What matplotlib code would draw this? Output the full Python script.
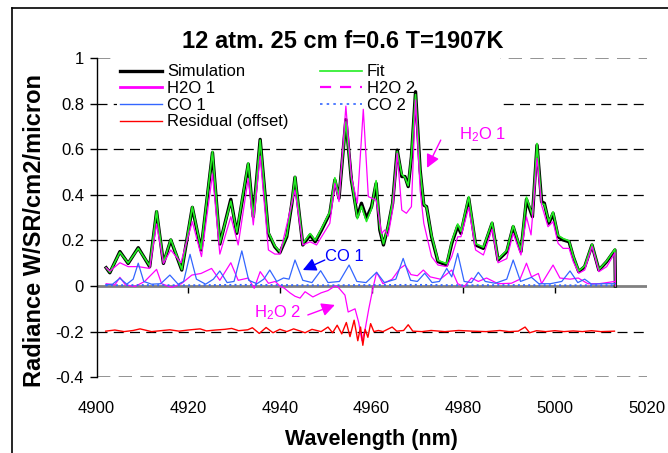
import matplotlib
matplotlib.use("Agg")
import matplotlib.pyplot as plt
from matplotlib.lines import Line2D
from matplotlib.patches import Rectangle

plt.rcParams['font.family'] = ['Liberation Sans', 'DejaVu Sans']
plt.rcParams['mathtext.default'] = 'regular'

# ---- data ----
sim_wl = [4902.1, 4902.9, 4905.1, 4906.9, 4909.1, 4911.6, 4913.1, 4914.6, 4916.2, 4918.6,
          4920.9, 4922.8, 4925.3, 4926.9, 4929.3, 4930.6, 4933.1, 4934.2, 4935.7, 4937.5,
          4938.9, 4940.0, 4941.5, 4942.6, 4943.3, 4945.0, 4946.6, 4947.7, 4949.1, 4950.9,
          4952.0, 4952.9, 4954.4, 4955.6, 4956.9, 4957.8, 4958.9, 4960.0, 4961.0, 4961.8,
          4962.6, 4963.6, 4964.6, 4965.6, 4966.6, 4967.3, 4968.0, 4968.7, 4969.6, 4970.6,
          4971.4, 4972.0, 4973.1, 4974.5, 4976.4, 4977.5, 4978.8, 4979.5, 4981.2, 4982.7,
          4984.4, 4986.3, 4987.6, 4989.5, 4990.9, 4992.6, 4993.8, 4995.1, 4996.1, 4997.1,
          4997.7, 4998.7, 4999.6, 5000.7, 5001.8, 5003.1, 5004.0, 5005.2, 5006.5, 5008.1,
          5009.6, 5011.3, 5013.1, 5013.2]
sim_val = [0.080, 0.058, 0.151, 0.099, 0.168, 0.085, 0.326, 0.099, 0.202, 0.070,
           0.345, 0.158, 0.585, 0.184, 0.380, 0.231, 0.535, 0.304, 0.643, 0.231,
           0.172, 0.146, 0.216, 0.360, 0.477, 0.180, 0.224, 0.194, 0.246, 0.319,
           0.465, 0.385, 0.730, 0.465, 0.304, 0.363, 0.297, 0.348, 0.450, 0.246,
           0.180, 0.260, 0.363, 0.596, 0.480, 0.480, 0.436, 0.567, 0.852, 0.509,
           0.355, 0.348, 0.216, 0.107, 0.092, 0.187, 0.263, 0.231, 0.385, 0.180,
           0.165, 0.275, 0.114, 0.151, 0.260, 0.151, 0.380, 0.304, 0.618, 0.370,
           0.363, 0.275, 0.319, 0.216, 0.202, 0.194, 0.129, 0.063, 0.085, 0.180,
           0.070, 0.107, 0.158, 0.0]
fit_val = [0.080, 0.060, 0.148, 0.101, 0.165, 0.088, 0.330, 0.101, 0.205, 0.072,
           0.348, 0.162, 0.590, 0.188, 0.372, 0.236, 0.540, 0.300, 0.640, 0.236,
           0.176, 0.150, 0.222, 0.365, 0.480, 0.186, 0.230, 0.200, 0.252, 0.325,
           0.475, 0.392, 0.720, 0.470, 0.295, 0.350, 0.283, 0.340, 0.462, 0.255,
           0.185, 0.262, 0.368, 0.590, 0.490, 0.475, 0.440, 0.575, 0.840, 0.505,
           0.360, 0.345, 0.222, 0.112, 0.098, 0.195, 0.272, 0.240, 0.392, 0.186,
           0.170, 0.280, 0.118, 0.156, 0.265, 0.156, 0.390, 0.310, 0.625, 0.360,
           0.358, 0.282, 0.325, 0.222, 0.208, 0.198, 0.132, 0.066, 0.088, 0.183,
           0.072, 0.110, 0.162, 0.0]

h1_wl = [4902.1, 4902.9, 4905.1, 4906.9, 4909.1, 4911.6, 4913.1, 4914.6, 4916.2, 4918.4,
         4920.9, 4922.9, 4925.3, 4926.9, 4929.3, 4930.9, 4933.1, 4934.2, 4935.7, 4937.5,
         4938.9, 4940.0, 4943.3, 4945.0, 4946.6, 4948.0, 4950.9, 4952.0, 4952.9, 4954.4,
         4955.6, 4956.9, 4958.2, 4959.3, 4961.0, 4962.2, 4962.9, 4963.6, 4964.6, 4965.6,
         4966.6, 4967.6, 4968.7, 4969.6, 4970.6, 4971.4, 4973.1, 4974.5, 4976.4, 4977.5,
         4978.8, 4979.5, 4981.2, 4982.7, 4984.4, 4986.3, 4987.6, 4989.5, 4990.9, 4992.6,
         4993.8, 4994.8, 4996.1, 4997.1, 4998.5, 4999.6, 5000.7, 5001.8, 5003.1, 5004.0,
         5005.2, 5006.5, 5008.1, 5009.6, 5011.3, 5013.1, 5013.2]
h1_val = [0.080, 0.065, 0.102, 0.085, 0.085, 0.077, 0.272, 0.099, 0.158, 0.102,
          0.282, 0.129, 0.491, 0.140, 0.304, 0.180, 0.472, 0.268, 0.570, 0.158,
          0.140, 0.140, 0.421, 0.180, 0.194, 0.180, 0.275, 0.450, 0.370, 0.789,
          0.480, 0.363, 0.775, 0.392, 0.377, 0.231, 0.246, 0.219, 0.333, 0.582,
          0.333, 0.319, 0.348, 0.816, 0.421, 0.275, 0.129, 0.092, 0.085, 0.129,
          0.216, 0.216, 0.345, 0.158, 0.136, 0.249, 0.102, 0.120, 0.231, 0.136,
          0.304, 0.224, 0.560, 0.355, 0.260, 0.282, 0.187, 0.165, 0.165, 0.107,
          0.056, 0.070, 0.173, 0.063, 0.085, 0.146, 0.0]

h2_wl = [4902.1, 4904.0, 4905.1, 4906.3, 4908.4, 4910.5, 4913.1, 4914.2, 4916.4, 4918.5,
         4920.8, 4922.8, 4925.1, 4926.9, 4929.3, 4930.9, 4933.1, 4934.4, 4935.7, 4937.5,
         4939.0, 4940.0, 4941.0, 4942.2, 4943.3, 4944.4, 4945.5, 4947.2, 4949.0, 4950.5,
         4952.0, 4952.7, 4954.2, 4954.9, 4956.4, 4957.2, 4957.9, 4958.6, 4959.4, 4960.3,
         4961.1, 4962.5, 4964.5, 4966.2, 4967.3, 4968.6, 4970.0, 4971.3, 4972.8, 4975.0,
         4977.5, 4978.8, 4980.2, 4981.8, 4983.3, 4985.1, 4987.6, 4990.5, 4992.4, 4993.8,
         4994.9, 4996.4, 4997.1, 4999.6, 5001.1, 5003.3, 5005.1, 5007.2, 5009.6, 5013.1]
h2_val = [0.010, 0.005, 0.038, 0.005, -0.002, 0.020, 0.073, 0.010, -0.006, 0.010,
          0.048, 0.055, 0.077, 0.025, 0.102, 0.025, 0.035, -0.010, 0.063, 0.012,
          0.020, 0.000, -0.010, -0.030, -0.045, -0.053, -0.025, -0.048, -0.030, -0.020,
          0.000, -0.005, -0.040, -0.114, -0.100, -0.160, -0.240, -0.190, -0.100, -0.010,
          0.060, 0.010, 0.030, 0.077, 0.092, 0.050, 0.045, 0.070, 0.040, 0.030,
          0.070, 0.010, -0.003, 0.035, 0.020, 0.035, 0.010, 0.012, 0.030, 0.100,
          0.040, 0.055, 0.010, 0.092, 0.035, 0.030, 0.035, 0.010, 0.010, 0.020]

co1_wl = [4902.0, 4903.5, 4905.1, 4906.6, 4908.0, 4909.1, 4910.3, 4912.0, 4914.0, 4916.0,
          4917.8, 4919.0, 4920.4, 4921.8, 4923.8, 4925.5, 4926.9, 4928.5, 4930.0, 4931.7,
          4933.2, 4935.0, 4936.5, 4937.8, 4939.3, 4940.8, 4942.0, 4943.3, 4945.0, 4947.0,
          4948.9, 4950.5, 4953.0, 4955.1, 4956.8, 4958.8, 4961.1, 4962.8, 4965.3, 4966.9,
          4968.5, 4970.0, 4971.6, 4973.2, 4974.8, 4976.4, 4977.5, 4978.8, 4980.2, 4981.8,
          4983.3, 4984.8, 4987.0, 4989.5, 4990.9, 4992.5, 4994.9, 4996.5, 4999.0, 5001.5,
          5003.3, 5005.0, 5006.5, 5008.0, 5010.5, 5013.2]
co1_val = [0.005, 0.008, 0.034, 0.008, 0.030, 0.100, 0.020, 0.008, 0.010, 0.048,
           0.008, 0.020, 0.139, 0.030, 0.008, 0.030, 0.066, 0.015, 0.020, 0.154,
           0.025, 0.010, 0.030, 0.070, 0.020, 0.035, 0.030, 0.114, 0.025, 0.015,
           0.067, 0.015, 0.020, 0.092, 0.020, 0.015, 0.060, 0.015, 0.030, 0.121,
           0.025, 0.020, 0.056, 0.015, 0.020, 0.077, 0.040, 0.143, 0.020, 0.015,
           0.060, 0.020, 0.012, 0.030, 0.114, 0.020, 0.038, 0.010, 0.010, 0.020,
           0.066, 0.015, 0.030, 0.008, 0.010, 0.010]

co2_wl = [4902.0, 4910.0, 4920.0, 4930.0, 4940.0, 4950.0, 4960.0, 4970.0, 4980.0, 4990.0,
          5000.0, 5013.2]
co2_val = [0.003, 0.004, 0.003, 0.005, 0.004, 0.003, 0.004, 0.005, 0.003, 0.004,
           0.003, 0.003]

res_wl = [4902.0, 4904.0, 4906.0, 4908.0, 4909.5, 4912.0, 4914.0, 4916.0, 4918.0, 4920.0,
          4922.6, 4924.0, 4926.0, 4928.0, 4929.5, 4931.0, 4933.0, 4934.0, 4935.5, 4937.0,
          4938.5, 4940.0, 4941.5, 4943.0, 4944.5, 4945.5, 4947.0, 4949.0, 4950.5, 4951.5,
          4952.5, 4953.5, 4954.5, 4955.3, 4956.2, 4957.0, 4957.6, 4958.1, 4958.6, 4959.2,
          4959.8, 4960.5, 4961.5, 4962.5, 4963.5, 4964.5, 4965.5, 4967.0, 4968.0, 4969.0,
          4971.0, 4973.0, 4976.0, 4979.0, 4982.0, 4985.0, 4988.0, 4990.0, 4992.0, 4993.5,
          4994.5, 4996.0, 4998.0, 5000.0, 5002.0, 5004.0, 5006.0, 5008.0, 5010.0, 5013.0]
res_val = [-0.198, -0.193, -0.200, -0.195, -0.188, -0.200, -0.196, -0.192, -0.198, -0.193,
           -0.188, -0.197, -0.193, -0.190, -0.186, -0.196, -0.192, -0.183, -0.208, -0.182,
           -0.205, -0.190, -0.200, -0.188, -0.198, -0.205, -0.190, -0.200, -0.180, -0.205,
           -0.172, -0.210, -0.160, -0.222, -0.150, -0.240, -0.180, -0.260, -0.190, -0.225,
           -0.165, -0.200, -0.195, -0.200, -0.190, -0.180, -0.198, -0.195, -0.170, -0.198,
           -0.200, -0.195, -0.200, -0.195, -0.198, -0.200, -0.195, -0.200, -0.198, -0.180,
           -0.205, -0.196, -0.200, -0.196, -0.200, -0.197, -0.200, -0.196, -0.200, -0.198]

y_ticks = [1.0, 0.8, 0.6, 0.4, 0.2, 0.0, -0.2, -0.4]
y_labels = ['1', '0.8', '0.6', '0.4', '0.2', '0', '-0.2', '-0.4']
x_ticks = [4900, 4920, 4940, 4960, 4980, 5000, 5020]

MAG = '#ff00ff'
BLUE = '#3366ff'

fig = plt.figure(figsize=(6.68, 4.53), dpi=100)
ax = fig.add_axes([0.1445, 0.1673, 0.8234, 0.7047])
ax.set_xlim(4900, 5020)
ax.set_ylim(-0.4, 1.0)

# gridlines
for y in [0.8, 0.6, 0.4, 0.2, -0.2]:
    ax.axhline(y, color='black', lw=0.9, ls=(0, (8, 5)), zorder=1)
for y in [1.0, -0.4]:
    ax.axhline(y, color='#808080', lw=1.2, ls=(0, (8, 5)), zorder=1)
ax.axhline(0, color='#808080', lw=2, zorder=1.2)

# white legend area hides the gridlines behind it
ax.add_patch(Rectangle((0.037, 0.781), 0.697, 0.23, transform=ax.transAxes,
                       facecolor='white', edgecolor='none', zorder=1.5, clip_on=False))

# series
ax.plot(sim_wl, sim_val, color='black', lw=2.4, zorder=3)
ax.plot(sim_wl, fit_val, color='#22ee22', lw=1.2, zorder=3.1)
ax.plot(h1_wl, h1_val, color=MAG, lw=0.9, zorder=3.2)
ax.plot(h2_wl, h2_val, color=MAG, lw=0.9, zorder=3.3)
ax.plot(co1_wl, co1_val, color=BLUE, lw=0.9, zorder=3.4)
ax.plot(co2_wl, co2_val, color=BLUE, lw=1.4, ls=':', zorder=3.5)
ax.plot(res_wl, res_val, color='red', lw=1.0, zorder=3.6)

handles = [Line2D([], [], color='black', lw=2.4),
           Line2D([], [], color=MAG, lw=2),
           Line2D([], [], color=BLUE, lw=1),
           Line2D([], [], color='red', lw=1),
           Line2D([], [], color='#22ee22', lw=1.2),
           Line2D([], [], color=MAG, lw=1.6, ls=(0, (5, 4))),
           Line2D([], [], color=BLUE, lw=1.2, ls=(0, (1.5, 2.5)))]
labels = ['Simulation', 'H2O 1', 'CO 1', 'Residual (offset)', 'Fit', 'H2O 2', 'CO 2']
leg = ax.legend(handles, labels, ncol=2, loc='upper left', bbox_to_anchor=(0.036, 0.993),
                borderaxespad=0, fontsize=12, frameon=False,
                handlelength=2.5, handletextpad=0.3, labelspacing=0.1,
                columnspacing=1.9, borderpad=0.25)
leg.set_zorder(2)

# annotations: label text plus a separate arrow
ann_style = dict(arrowstyle='-|>', lw=1, mutation_scale=20, shrinkA=0, shrinkB=0)
ax.text(4984.3, 0.662, 'H$_2$O 1', color=MAG, fontsize=12, ha='center', va='center', zorder=4)
ax.annotate('', xy=(4972.1, 0.518), xytext=(4975.1, 0.640),
            arrowprops=dict(color=MAG, **ann_style), zorder=4)
ax.text(4954.0, 0.13, 'CO 1', color='#0000ff', fontsize=12, ha='center', va='center', zorder=4)
ax.annotate('', xy=(4945.0, 0.070), xytext=(4949.8, 0.114),
            arrowprops=dict(color='#0000ff', **ann_style), zorder=4)
ax.text(4939.6, -0.115, 'H$_2$O 2', color=MAG, fontsize=12, ha='center', va='center', zorder=4)
ax.annotate('', xy=(4952.0, -0.083), xytext=(4946.1, -0.127),
            arrowprops=dict(color=MAG, **ann_style), zorder=4)

# axes styling
for s in ['top', 'right', 'bottom']:
    ax.spines[s].set_visible(False)
ax.spines['left'].set_linewidth(1)
ax.set_yticks(y_ticks)
ax.set_yticklabels(y_labels)
ax.set_xticks(x_ticks)
ax.tick_params(axis='y', direction='out', length=5, width=1, labelsize=12, pad=4)
ax.tick_params(axis='x', length=0, labelsize=12, pad=17)

zero_ax = ax.secondary_xaxis(0.4 / 1.4)
zero_ax.spines['bottom'].set_visible(False)
zero_ax.set_xticks(x_ticks[1:-1])
zero_ax.tick_params(direction='out', length=5, width=1, labelbottom=False)

ax.set_xlabel('Wavelength (nm)', fontsize=15.5, fontweight='bold')
ax.xaxis.set_label_coords(0.5, -0.162)
ax.set_ylabel('Radiance W/SR/cm2/micron', fontsize=17, fontweight='bold')
ax.yaxis.set_label_coords(-0.092, 0.461)

fig.text(342.5 / 668, 1 - 41 / 453, '12 atm. 25 cm f=0.6 T=1907K', ha='center',
         va='center', fontsize=17, fontweight='bold')

# chart border
fig.add_artist(Line2D([12 / 668, 12 / 668], [0, 1 - 8 / 453], transform=fig.transFigure,
                      color='black', lw=1.2))
fig.add_artist(Line2D([12 / 668, 1], [1 - 8 / 453, 1 - 8 / 453], transform=fig.transFigure,
                      color='black', lw=1.2))

fig.savefig('out.png', dpi=100)
